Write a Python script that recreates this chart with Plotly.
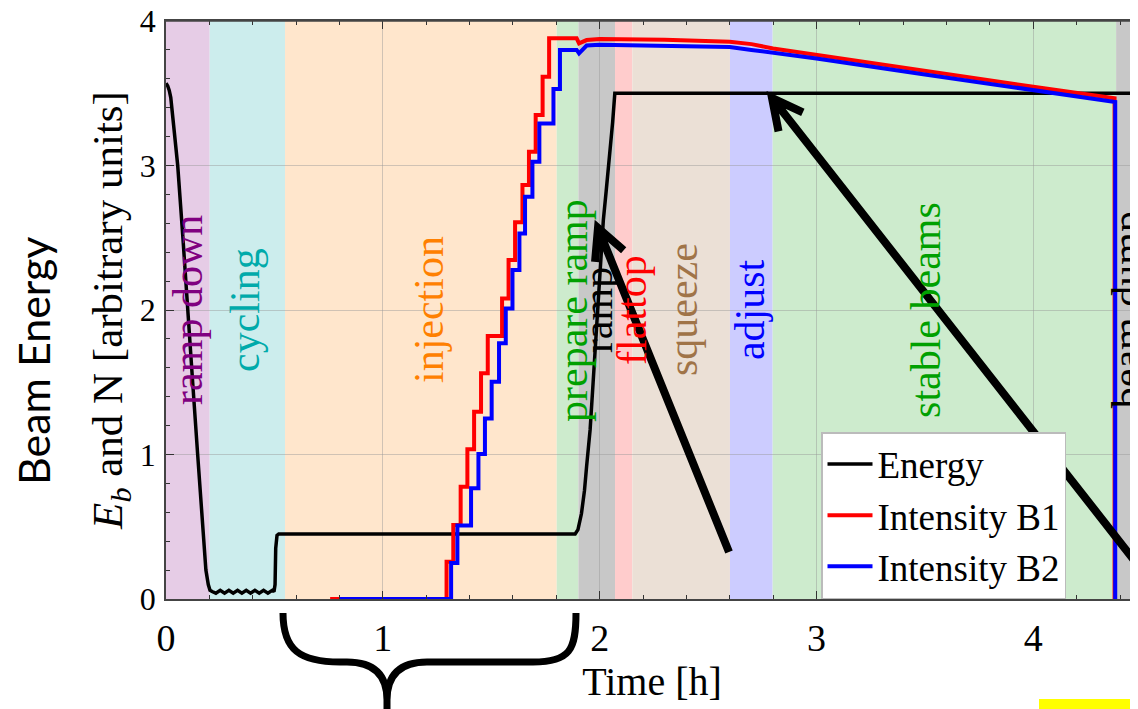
import math
import plotly.graph_objects as go

# ---------------- data ----------------
phase_names = ["ramp down", "cycling", "injection", "prepare ramp", "ramp", "flattop",
               "squeeze", "adjust", "stable beams", "beam dump"]
phase_start = [0.0, 0.2016, 0.549, 1.802, 1.902, 2.071, 2.151, 2.601, 2.798, 4.382]
phase_end = [0.2016, 0.549, 1.802, 1.902, 2.071, 2.151, 2.601, 2.798, 4.382, 4.60]
phase_fill = ["#E6CCE6", "#CCEDED", "#FFE6CC", "#CDEBCD", "#C8C8C8", "#FFCCCC",
              "#EBE0D6", "#CCCCFF", "#CDEBCD", "#C8C8C8"]
phase_text_color = ["#800080", "#00AAAA", "#FF8000", "#00A000", "#000000", "#FF0000",
                    "#A07448", "#0000FF", "#00A000", "#000000"]
phase_label_t = [0.101, 0.364, 1.213, 1.877, 1.993, 2.149, 2.385, 2.694, 3.505, 4.433]
phase_label_y = 2.0

energy_t = [0.0, 0.008, 0.015, 0.022, 0.035, 0.054, 0.078, 0.10, 0.123, 0.146, 0.169,
            0.184, 0.195, 0.203, 0.215,
            0.23, 0.25, 0.27, 0.29, 0.31, 0.33, 0.35, 0.37, 0.39, 0.41, 0.43, 0.45, 0.47, 0.49,
            0.498, 0.503, 0.506, 0.512, 0.52,
            1.887, 1.90, 1.916, 1.93, 1.94, 1.956, 1.97, 1.985, 2.0, 2.017, 2.03, 2.045, 2.06,
            2.07, 2.08, 4.483]
energy_v = [3.57, 3.55, 3.52, 3.47, 3.28, 3.0, 2.5, 2.05, 1.5, 1.0, 0.5,
            0.2, 0.1, 0.06, 0.05,
            0.04, 0.06, 0.04, 0.06, 0.04, 0.06, 0.04, 0.06, 0.04, 0.06, 0.04, 0.06, 0.04, 0.06,
            0.05, 0.10, 0.35, 0.44, 0.45,
            0.45, 0.48, 0.59, 0.75, 0.92, 1.17, 1.50, 1.86, 2.22, 2.62, 2.82, 3.05, 3.30,
            3.50, 3.50, 3.50]

b1_step_t = [0.757, 1.294, 1.325, 1.359, 1.39, 1.421, 1.453, 1.484, 1.55, 1.58, 1.61,
             1.644, 1.674, 1.705, 1.737, 1.767]
b1_step_v = [0.0, 0.258, 0.512, 0.777, 1.036, 1.296, 1.562, 1.82, 2.08, 2.346, 2.607,
             2.865, 3.096, 3.35, 3.615, 3.88]
b1_tail_t = [1.894, 1.905, 1.94, 2.0, 2.3, 2.6, 2.7, 2.8, 3.0, 3.5, 4.0, 4.375, 4.375]
b1_tail_v = [3.88, 3.845, 3.868, 3.875, 3.87, 3.857, 3.84, 3.81, 3.765, 3.655, 3.545, 3.465, 0.0]

b2_step_t = [0.80, 1.315, 1.344, 1.407, 1.441, 1.471, 1.502, 1.536, 1.567, 1.598, 1.63,
             1.656, 1.69, 1.722, 1.787, 1.817]
b2_step_v = [0.0, 0.25, 0.508, 0.766, 1.003, 1.25, 1.504, 1.77, 2.01, 2.277, 2.53,
             2.784, 3.026, 3.29, 3.53, 3.80]
b2_tail_t = [1.894, 1.905, 1.94, 2.0, 2.3, 2.6, 2.7, 2.8, 3.0, 3.5, 4.0, 4.378, 4.378]
b2_tail_v = [3.80, 3.776, 3.83, 3.835, 3.83, 3.82, 3.80, 3.78, 3.74, 3.63, 3.52, 3.44, 0.0]

x_ticks = [0, 1, 2, 3, 4]
y_ticks = [0, 1, 2, 3, 4]
X_MAX = 4.483
Y_MAX = 4.0

# ---------------- layout geometry (screen pixels; page body adds an 8px margin) ----------------
BODY = 8
W, H = 1138 - BODY, 709 - BODY
PL, PT = 166, 21          # plot area top-left on screen
PW, PH = 972, 578         # plot area size

SERIF = "Liberation Serif, Times New Roman, serif"


def step_expand(ts, vs):
    xs, ys = [], []
    for i, (t, v) in enumerate(zip(ts, vs)):
        if i > 0:
            xs.append(t)
            ys.append(vs[i - 1])
        xs.append(t)
        ys.append(v)
    return xs, ys


def paper(px, py):
    return ((px - PL) / PW, (PT + PH - py) / PH)


fig = go.Figure()

b1x, b1y = step_expand(b1_step_t, b1_step_v)
b2x, b2y = step_expand(b2_step_t, b2_step_v)

fig.add_trace(go.Scatter(x=energy_t, y=energy_v, mode="lines", name="Energy",
                         line=dict(color="black", width=3.5)))
fig.add_trace(go.Scatter(x=b1x + b1_tail_t, y=b1y + b1_tail_v, mode="lines",
                         name="Intensity B1", line=dict(color="#FF0000", width=4)))
fig.add_trace(go.Scatter(x=b2x + b2_tail_t, y=b2y + b2_tail_v, mode="lines",
                         name="Intensity B2", line=dict(color="#0000FF", width=4)))

shapes = []
for s, e, c in zip(phase_start, phase_end, phase_fill):
    shapes.append(dict(type="rect", xref="x", yref="y", x0=s, x1=e, y0=0, y1=Y_MAX,
                       fillcolor=c, line=dict(width=0), layer="below"))

# top frame line of the plot area
shapes.append(dict(type="line", xref="paper", yref="paper", x0=0, x1=1.02, y0=1, y1=1,
                   line=dict(color="#444", width=1.5), layer="above"))

annotations = []
for name, t, c in zip(phase_names, phase_label_t, phase_text_color):
    annotations.append(dict(x=t, y=phase_label_y, xref="x", yref="y", text=name,
                            showarrow=False, textangle=-90,
                            font=dict(family=SERIF, size=42, color=c),
                            xanchor="center", yanchor="middle"))

# "Beam Energy" side label
bx, by = paper(33, 361)
annotations.append(dict(x=bx, y=by, xref="paper", yref="paper", text="Beam Energy",
                        showarrow=False, textangle=-90,
                        font=dict(family="Lato, Open Sans, sans-serif", size=43, color="black"),
                        xanchor="center", yanchor="middle"))


def fmt(p):
    q = paper(*p)
    return f"{q[0]:.5f},{q[1]:.5f}"


def arrow_path(tip, tail, arm_len=34, arm_deg=27):
    dx, dy = tail[0] - tip[0], tail[1] - tip[1]
    n = math.hypot(dx, dy)
    ux, uy = dx / n, dy / n
    pts = []
    for sgn in (1, -1):
        a = math.radians(arm_deg * sgn)
        rx = ux * math.cos(a) - uy * math.sin(a)
        ry = ux * math.sin(a) + uy * math.cos(a)
        pts.append((tip[0] + rx * arm_len, tip[1] + ry * arm_len))
    return f"M {fmt(pts[0])} L {fmt(tip)} L {fmt(pts[1])} M {fmt(tip)} L {fmt(tail)}"


for tip, tail in [((598, 228), (729, 552)), ((772, 98), (1170, 606))]:
    shapes.append(dict(type="path", xref="paper", yref="paper",
                       path=arrow_path(tip, tail),
                       line=dict(color="black", width=8), layer="above"))


def pth(cmds):
    return " ".join(c if isinstance(c, str) else fmt(c) for c in cmds)


brace = pth(["M", (283, 613), "C", (283, 650), (300, 662), (340, 662),
             "L", (347, 662), "C", (375, 662), (387, 676), (387, 700),
             "L", (387, 714),
             "M", (387, 700), "C", (387, 676), (399, 662), (427, 662),
             "L", (533, 662), "C", (570, 662), (576, 650), (576, 613)])
shapes.append(dict(type="path", xref="paper", yref="paper", path=brace,
                   line=dict(color="black", width=7), layer="above"))

# yellow mark bottom right
y0p = paper(1039, 699)
y1p = paper(1160, 712)
shapes.append(dict(type="rect", xref="paper", yref="paper", x0=y0p[0], x1=y1p[0],
                   y0=y0p[1], y1=y1p[1], fillcolor="#FFFF00", line=dict(width=0),
                   layer="above"))

lx, ly = paper(821, 432)

fig.update_layout(
    width=W, height=H, autosize=False,
    margin=dict(l=PL - BODY, r=W - (PL - BODY) - PW, t=PT - BODY,
                b=H - (PT - BODY) - PH, pad=0, autoexpand=False),
    paper_bgcolor="white", plot_bgcolor="white",
    shapes=shapes, annotations=annotations,
    showlegend=True,
    legend=dict(x=lx, y=ly, xanchor="left", yanchor="top",
                bgcolor="white", bordercolor="#BBBBBB", borderwidth=1.5,
                font=dict(family=SERIF, size=37, color="black"),
                itemwidth=45, tracegroupgap=0),
    xaxis=dict(range=[0, X_MAX], tickvals=x_ticks, ticktext=[str(v) for v in x_ticks],
               ticks="inside", ticklen=8, tickwidth=1.3, tickcolor="#333",
               showline=True, linecolor="#444", linewidth=1.5, mirror="ticks",
               showgrid=True, gridcolor="rgba(150,150,150,0.45)", gridwidth=1.3,
               zeroline=False, ticklabeloverflow="allow",
               minor=dict(dtick=0.2, tick0=0, ticks="inside", ticklen=4,
                          tickcolor="#333", showgrid=False),
               tickfont=dict(family=SERIF, size=38, color="black"),
               ticklabelstandoff=5,
               title=dict(text="Time [h]", font=dict(family=SERIF, size=40, color="black"),
                          standoff=6)),
    yaxis=dict(range=[0, Y_MAX], tickvals=y_ticks, ticktext=[str(v) for v in y_ticks],
               ticks="inside", ticklen=8, tickwidth=1.3, tickcolor="#333",
               showline=True, linecolor="#444", linewidth=1.5, mirror=False,
               showgrid=True, gridcolor="rgba(150,150,150,0.45)", gridwidth=1.3,
               zeroline=False, ticklabeloverflow="allow",
               minor=dict(dtick=0.2, tick0=0, ticks="inside", ticklen=4,
                          tickcolor="#333", showgrid=False),
               tickfont=dict(family=SERIF, size=32, color="black"),
               ticklabelstandoff=2,
               title=dict(text="<i>E</i><sub><i>b</i></sub> and N [arbitrary units]",
                          font=dict(family=SERIF, size=43, color="black"),
                          standoff=4)),
)

fig.write_html("out.html")
